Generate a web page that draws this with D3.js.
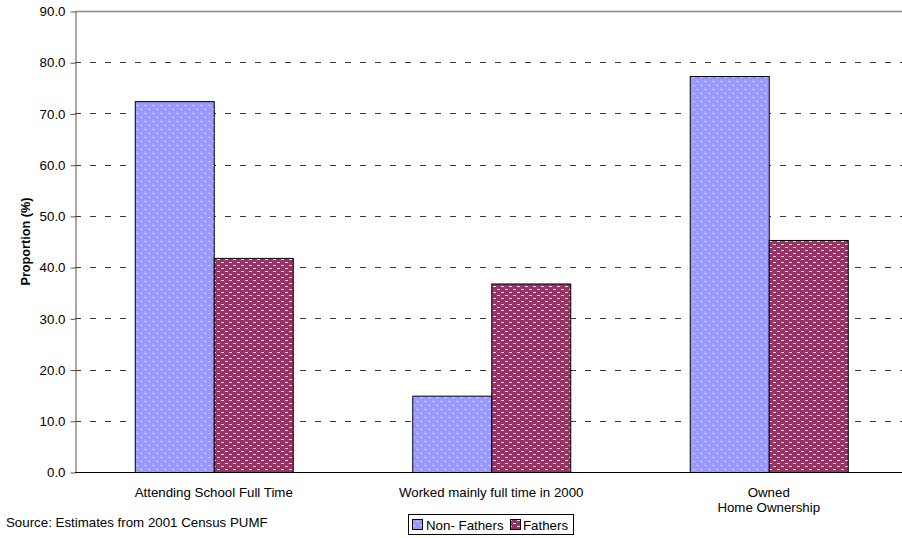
<!DOCTYPE html>
<html><head><meta charset="utf-8">
<script src="https://cdn.jsdelivr.net/npm/d3@7"></script>
<style>body{margin:0;background:#fff}svg{display:block}text{font-family:"Liberation Sans",Arial,sans-serif}</style>
</head><body><div id="chart"></div>
<script>
const categories = [["Attending School Full Time"], ["Worked mainly full time in 2000"], ["Owned", "Home Ownership"]];
const seriesNames = ["Non- Fathers", "Fathers"];
const nonFathers = [72.4, 14.9, 77.3];
const fathers = [41.8, 36.8, 45.3];
const yTicks = [0, 10, 20, 30, 40, 50, 60, 70, 80, 90];
const sourceText = "Source: Estimates from 2001 Census PUMF";

const W = 902, H = 538;
const FS = 13.3;
const svg = d3.select("#chart").append("svg").attr("width", W).attr("height", H);
const defs = svg.append("defs");
// blue dotted pattern
const pb = defs.append("pattern").attr("id", "pBlue").attr("patternUnits", "userSpaceOnUse").attr("width", 8).attr("height", 8);
pb.append("rect").attr("width", 8).attr("height", 8).attr("fill", "#9999FF");
pb.append("rect").attr("x", 1).attr("y", 1).attr("width", 1).attr("height", 1).attr("fill", "#ffffff");
pb.append("rect").attr("x", 5).attr("y", 5).attr("width", 1).attr("height", 1).attr("fill", "#ffffff");
pb.append("rect").attr("x", 0).attr("y", 1).attr("width", 3).attr("height", 1).attr("fill", "#d8d8ff").attr("opacity", 0.5);
pb.append("rect").attr("x", 4).attr("y", 5).attr("width", 3).attr("height", 1).attr("fill", "#d8d8ff").attr("opacity", 0.5);
// red brick-dash pattern
const pr = defs.append("pattern").attr("id", "pRed").attr("patternUnits", "userSpaceOnUse").attr("width", 8).attr("height", 6);
pr.append("rect").attr("width", 8).attr("height", 6).attr("fill", "#993366");
pr.append("rect").attr("x", 1).attr("y", 1).attr("width", 3).attr("height", 1).attr("fill", "#f0d8e4");
pr.append("rect").attr("x", 5).attr("y", 4).attr("width", 3).attr("height", 1).attr("fill", "#f0d8e4");

const x0 = 75, plotRight = 907.5, yTop = 11, yBot = 472;
const x = d3.scaleBand().domain(d3.range(categories.length)).range([x0, plotRight]).padding(0);
const y = d3.scaleLinear().domain([0, 90]).range([yBot, yTop]);
const barW = 79;

// gridlines
svg.append("g").selectAll("line").data(yTicks.filter(t => t > 0)).join("line")
  .attr("x1", x0).attr("x2", W).attr("y1", d => Math.round(y(d)) + 0.5).attr("y2", d => Math.round(y(d)) + 0.5)
  .attr("stroke", d => d === 90 ? "#8a8a8a" : "#3a3a3a")
  .attr("stroke-width", d => d === 90 ? 1.5 : 1)
  .attr("stroke-dasharray", d => d === 90 ? null : "6,9");

// bars
const series = [nonFathers, fathers];
const fills = ["url(#pBlue)", "url(#pRed)"];
series.forEach((vals, si) => {
  svg.append("g").selectAll("rect").data(vals).join("rect")
    .attr("x", (d, i) => x(i) + x.bandwidth() / 2 - barW + si * barW + 0.5)
    .attr("y", d => y(d) + 0.5)
    .attr("width", barW)
    .attr("height", d => yBot - y(d))
    .attr("fill", fills[si])
    .attr("stroke", "#000").attr("stroke-width", 1);
});

// y axis
const yAxis = d3.axisLeft(y).tickValues(yTicks).tickFormat(d3.format(".1f")).tickSize(5).tickSizeOuter(0);
const gy = svg.append("g").attr("transform", `translate(${x0 + 0.5},0.5)`).call(yAxis);
gy.select(".domain").attr("stroke", "#555");
gy.selectAll(".tick line").attr("stroke", "#555");
gy.selectAll(".tick text").attr("font-size", FS).attr("fill", "#000").attr("x", -10).attr("font-family", "Liberation Sans, Arial, sans-serif");

// x axis line
svg.append("line").attr("x1", x0).attr("x2", W).attr("y1", yBot + 0.5).attr("y2", yBot + 0.5).attr("stroke", "#000");

// x labels
categories.forEach((lines, i) => {
  const cx = x(i) + x.bandwidth() / 2;
  const t = svg.append("text").attr("x", cx).attr("y", 497)
    .attr("text-anchor", "middle").attr("font-size", FS).attr("fill", "#000");
  lines.forEach((l, j) => t.append("tspan").attr("x", cx).attr("dy", j === 0 ? 0 : 15).text(l));
});

// y title
svg.append("text").attr("transform", `translate(30,${(yTop + yBot) / 2}) rotate(-90)`)
  .attr("text-anchor", "middle").attr("font-size", 12.7).attr("font-weight", "bold").text("Proportion (%)");

// source
svg.append("text").attr("x", 6).attr("y", 527).attr("font-size", FS).attr("fill", "#000").text(sourceText);

// legend
const lg = svg.append("g");
lg.append("rect").attr("x", 408.5).attr("y", 514.5).attr("width", 165).attr("height", 20).attr("fill", "#fff").attr("stroke", "#000");
const items = [{x: 412, tx: 426, name: seriesNames[0], fill: fills[0]}, {x: 510, tx: 523, name: seriesNames[1], fill: fills[1]}];
items.forEach(it => {
  lg.append("rect").attr("x", it.x + 0.5).attr("y", 519.5).attr("width", 10).attr("height", 10).attr("fill", it.fill).attr("stroke", "#000");
  lg.append("text").attr("x", it.tx).attr("y", 529.5).attr("font-size", FS).text(it.name);
});
</script>
</body></html>
